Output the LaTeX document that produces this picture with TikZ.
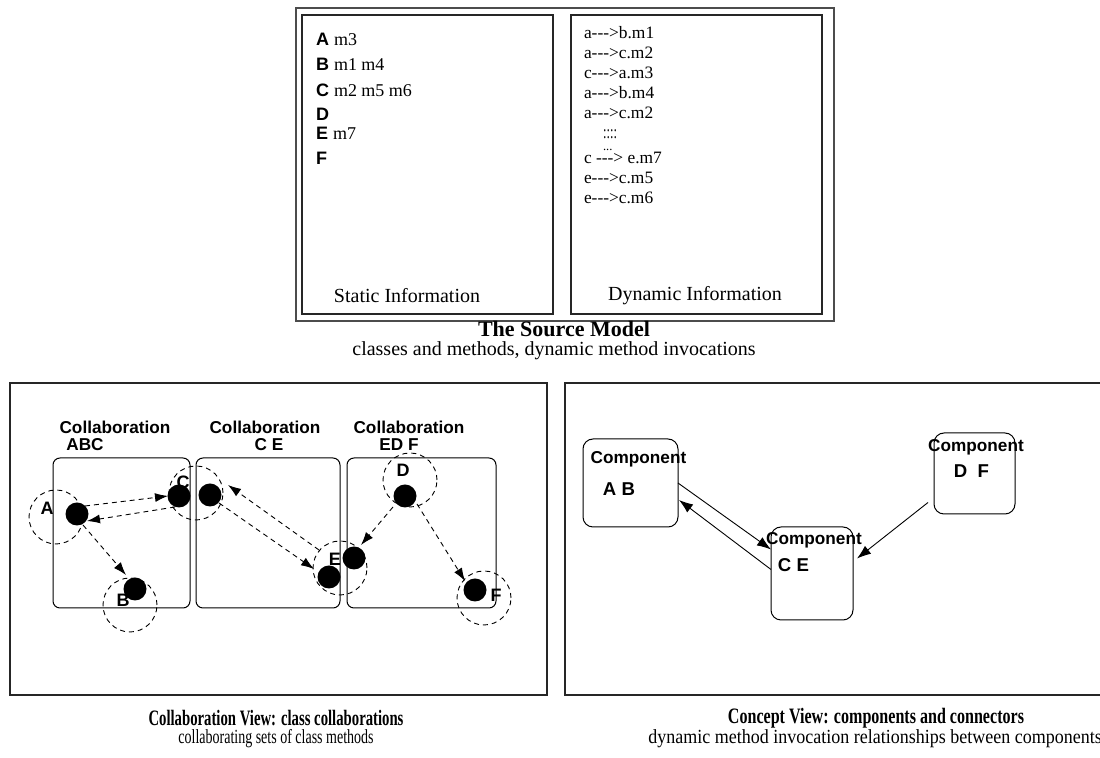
\documentclass[tikz,border=0pt]{standalone}
\usepackage{fontspec}
\setmainfont{Liberation Serif}
\setsansfont{Liberation Sans}
\usetikzlibrary{arrows.meta,calc}
\newcommand\setfs[1]{\fontsize{#1}{#1}\selectfont}
\begin{document}
\begin{tikzpicture}[x=0.5pt,y=-0.5pt,
  every node/.style={inner sep=0pt,outer sep=0pt},
  outerframe/.style={draw=black!70,line width=1pt},
  frame/.style={draw=black!85,line width=0.55pt},
  calltxt/.style={font=\setfs{8.7},anchor=base west},
  infotxt/.style={font=\setfs{10}},
  title/.style={font=\bfseries\setfs{11}},
  subtitle/.style={font=\setfs{10}},
  lbl/.style={font=\sffamily\bfseries\setfs{8.6}},
  letter/.style={font=\sffamily\bfseries\setfs{9}},
  group/.style={draw,line width=0.5pt,rounded corners=3.5pt},
  dot/.style={circle,fill=black,minimum size=11.5pt},
  ring/.style={circle,draw,line width=0.45pt,dash pattern=on 2.5pt off 2pt,minimum size=27pt},
  call/.style={line width=0.45pt,dash pattern=on 2.5pt off 2pt,-{Latex[length=6.5pt,width=4.5pt]}},
  comp/.style={draw,line width=0.5pt,rounded corners=5pt},
  link/.style={line width=0.45pt,-{Latex[length=7pt,width=5pt]}}]
\useasboundingbox (0,0) rectangle (1100,758);

% ---------------- source model ----------------
\draw[outerframe] (296,8) rectangle (834,321);
\draw[frame] (302,15) rectangle (553,314);
\draw[frame] (571,15) rectangle (822,314);

\node[anchor=base west] (sA) at (316,46)  {\textsf{\bfseries\setfs{9}A} {\setfs{9}m3}};
\node[anchor=base west] (sB) at (316,71)  {\textsf{\bfseries\setfs{9}B} {\setfs{9}m1 m4}};
\node[anchor=base west] (sC) at (316,97)  {\textsf{\bfseries\setfs{9}C} {\setfs{9}m2 m5 m6}};
\node[anchor=base west] (sD) at (316,121) {\textsf{\bfseries\setfs{9}D}};
\node[anchor=base west] (sE) at (316,140) {\textsf{\bfseries\setfs{9}E} {\setfs{9}m7}};
\node[anchor=base west] (sF) at (316,165) {\textsf{\bfseries\setfs{9}F}};

\node[calltxt] (d1) at (584,39)  {a-{}-{}->b.m1};
\node[calltxt] (d2) at (584,59)  {a-{}-{}->c.m2};
\node[calltxt] (d3) at (584,79)  {c-{}-{}->a.m3};
\node[calltxt] (d4) at (584,99)  {a-{}-{}->b.m4};
\node[calltxt] (d5) at (584,119) {a-{}-{}->c.m2};
% elided calls: last line's baseline is the node's base
\node[font=\setfs{6.3},align=left,anchor=base west] (dots) at (603,151)
  {\scalebox{1}[1.5]{::::}\\...};
\node[calltxt] (d6) at (584,164) {c -{}-{}-> e.m7};
\node[calltxt] (d7) at (584,184) {e-{}-{}->c.m5};
\node[calltxt] (d8) at (584,204) {e-{}-{}->c.m6};

\node[infotxt] (static) at (407,296) {Static Information};
\node[infotxt] (dynamic) at (695,296) {Dynamic Information};

\node[title] (srcTitle) at (564,329) {The Source Model};
\node[subtitle] (srcSub) at (554,351) {classes and methods, dynamic method invocations};

% ---------------- collaboration view ----------------
\draw[frame] (10,383) rectangle (547,695);

\node[group,minimum width=68.5pt,minimum height=75pt] (g1) at (121.5,533) {};
\node[group,minimum width=72pt,minimum height=75pt] (g2) at (268,533) {};
\node[group,minimum width=74.5pt,minimum height=75pt] (g3) at (421.5,533) {};

\node[lbl] (c1) at (115,427) {Collaboration};
\node[lbl] (c1m) at (85,445) {ABC};
\node[lbl] (c2) at (265,427) {Collaboration};
\node[lbl] (c2m) at (269,445) {C E};
\node[lbl] (c3) at (409,427) {Collaboration};
\node[lbl] (c3m) at (399,445) {ED F};

\node[ring] (rA) at (56,517) {};
\node[ring] (rB) at (130,605) {};
\node[ring] (rC) at (196,493) {};
\node[ring] (rE) at (340,568) {};
\node[ring] (rD) at (410,480) {};
\node[ring] (rF) at (484,598) {};

\node[dot] (A)  at (77,514) {};
\node[dot] (B)  at (135,589) {};
\node[dot] (C1) at (179,496) {};
\node[dot] (C2) at (210,495) {};
\node[dot] (E1) at (329,577) {};
\node[dot] (E2) at (354,558) {};
\node[dot] (D)  at (405,496) {};
\node[dot] (F)  at (475,590) {};

\node[letter] (tA) at (47,508) {A};
\node[letter] (tB) at (123,600) {B};
\node[letter] (tC) at (183,482) {C};
\node[letter] (tD) at (403,470) {D};
\node[letter] (tE) at (335,559) {E};
\node[letter] (tF) at (496,595) {F};

\draw[call] ($(A)+(8,-8)$) -- ($(C1)+(-11,0)$);
\draw[call] ($(C1)+(-4,11)$) -- ($(A)+(10,7)$);
\draw[call] ($(A)+(6,11)$) -- ($(B)+(-9,-14)$);
\draw[call] ($(C2)+(9,8)$) -- ($(E1)+(-15,-8)$);
\draw[call] ($(E1)+(-10,-27)$) -- ($(C2)+(18,-10)$);
\draw[call] ($(D)+(-12,11)$) -- ($(E2)+(7,-13)$);
\draw[call] ($(D)+(12,8)$) -- ($(F)+(-10,-9)$);

\node[font=\bfseries\setfs{11}] (colTitle) at (276,718) {\scalebox{0.67}[1]{Collaboration View: class collaborations}};
\node[font=\setfs{10}] (colSub) at (276,739) {\scalebox{0.70}[1]{collaborating sets of class methods}};

% ---------------- concept view ----------------
\draw[frame] (1101,383) -- (565,383) -- (565,695) -- (1101,695);

\node[comp,minimum width=47.5pt,minimum height=44pt] (AB) at (630.5,483) {};
\node[comp,minimum width=41pt,minimum height=46.5pt] (CE) at (812,573.5) {};
\node[comp,minimum width=40.5pt,minimum height=40.5pt] (DF) at (974.5,473.5) {};

\node[lbl] (kAB) at (638.5,459) {Component};
\node[font=\sffamily\bfseries\setfs{9.3}] (mAB) at (619,489) {A B};
\node[lbl] (kCE) at (814,540) {Component};
\node[font=\sffamily\bfseries\setfs{9.3}] (mCE) at (793.5,565) {C E};
\node[lbl] (kDF) at (976,447) {Component};
\node[font=\sffamily\bfseries\setfs{9.3}] (mDF) at (971.5,471) {D~~F};

\draw[link] (AB.east) -- ($(CE.west)+(0,-24)$);
\draw[link] ($(CE.west)+(0,-4)$) -- ($(AB.east)+(1,17)$);
\draw[link] ($(DF.west)+(-6,29)$) -- ($(CE.east)+(4,-15)$);

\node[font=\bfseries\setfs{11}] (conTitle) at (876,718) {\scalebox{0.73}[1]{Concept View: components and connectors}};
\node[font=\setfs{10}] (conSub) at (875,739) {\scalebox{0.9}[1]{dynamic method invocation relationships between components}};
\end{tikzpicture}
\end{document}
